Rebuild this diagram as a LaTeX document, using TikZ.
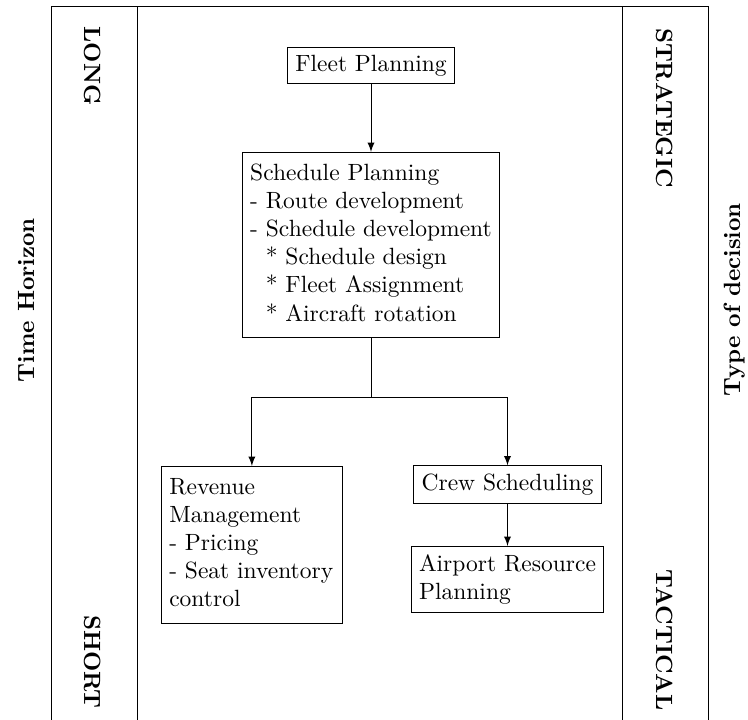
\documentclass[tikz,border=0pt]{standalone}
\usetikzlibrary{arrows}
\begin{document}
\begin{tikzpicture}[x=0.4255pt,y=-0.4255pt,
  box/.style={draw, align=left},
  lbl/.style={font=\bfseries},
  arr/.style={-latex}]
\useasboundingbox (0,0) rectangle (748,720);
\clip (0,0) rectangle (748,720);
% frame
\draw (51,740) -- (51,6) -- (708,6) -- (708,740);
\draw (137,6) -- (137,740);
\draw (622,6) -- (622,740);
% side labels
\node[lbl, rotate=-90] (long) at (93,66) {LONG};
\node[lbl, rotate=-90] (short) at (93,662) {SHORT};
\node[lbl, rotate=-90] (strat) at (665,108) {STRATEGIC};
\node[lbl, rotate=-90] (tact) at (665,640) {TACTICAL};
\node[lbl, rotate=90] (th) at (27,300) {Time Horizon};
\node[lbl, rotate=90] (tod) at (735,300) {Type of decision};
% boxes
\node[box] (fleet) at (371,65.5) {Fleet Planning};
\node[box, anchor=north] (sched) at (371,152) {\strut Schedule Planning\\- Route development\\- Schedule development\\\ \ * Schedule design\\\ \ * Fleet Assignment\\\ \ * Aircraft rotation\strut};
\node[box, anchor=north west, text width=2.47cm] (rev) at (161,466) {\hyphenpenalty=10000\strut Revenue\\Management\\- Pricing\\- Seat inventory\\control\strut};
\node[box] (crew) at (507.5,484.5) {Crew Scheduling};
\node[box, anchor=north] (airport) at (507.5,546) {Airport Resource\\Planning};
% connectors
\coordinate (split) at (371,397);
\draw[arr] (fleet) -- (sched);
\draw (sched.south) -- (split);
\draw[arr] (split) -| (rev.north);
\draw[arr] (split) -| (crew.north);
\draw[arr] (crew) -- (airport);
\end{tikzpicture}
\end{document}
